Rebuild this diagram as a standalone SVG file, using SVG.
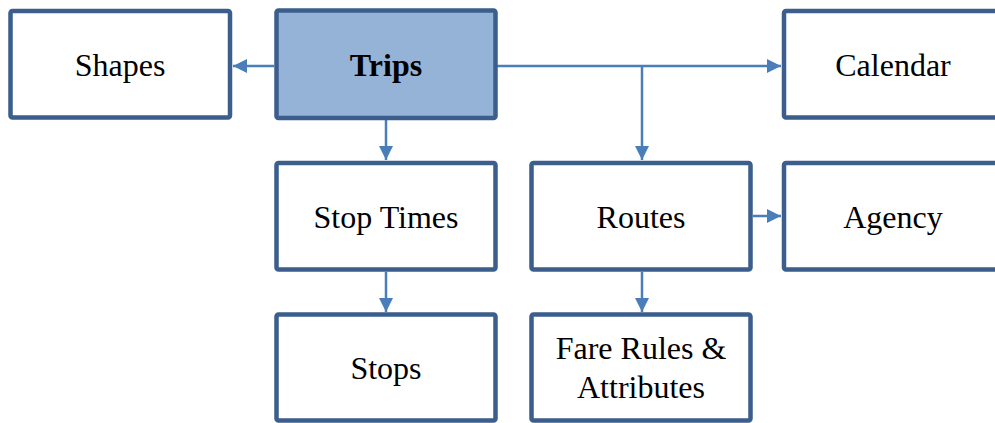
<svg xmlns="http://www.w3.org/2000/svg" width="995" height="423" viewBox="0 0 995 423">
  <style>
    .box { fill: #ffffff; stroke: #3b5e8c; stroke-width: 4.5; }
    .main { fill: #95b3d7; }
    .lbl { font-family: "Liberation Serif", "Times New Roman", serif; font-size: 32px; fill: #000000; text-anchor: middle; }
    .bold { font-weight: bold; }
    .conn { fill: none; stroke: #4a7ebb; stroke-width: 2.5; }
  </style>
  <defs>
    <marker id="arrow" viewBox="0 0 14 14" refX="14" refY="7" markerWidth="14" markerHeight="14" markerUnits="userSpaceOnUse" orient="auto">
      <path d="M0,0 L14,7 L0,14 Z" fill="#4a7ebb"/>
    </marker>
  </defs>
  <rect width="995" height="423" fill="#ffffff"/>

  <g id="connectors">
    <path class="conn" d="M274,66 H233" marker-end="url(#arrow)"/>
    <path class="conn" d="M497,66 H781" marker-end="url(#arrow)"/>
    <path class="conn" d="M642,66 V160" marker-end="url(#arrow)"/>
    <path class="conn" d="M386,120 V160" marker-end="url(#arrow)"/>
    <path class="conn" d="M386,272 V312" marker-end="url(#arrow)"/>
    <path class="conn" d="M642,272 V312" marker-end="url(#arrow)"/>
    <path class="conn" d="M753,216 H781" marker-end="url(#arrow)"/>
  </g>

  <g id="shapes">
    <rect class="box" x="10.5" y="11" width="219.5" height="106.5" rx="2"/>
    <text class="lbl" x="120" y="76">Shapes</text>
  </g>
  <g id="trips">
    <rect class="box main" x="276.5" y="10.5" width="219" height="107.5" rx="2"/>
    <text class="lbl bold" x="386" y="76">Trips</text>
  </g>
  <g id="calendar">
    <rect class="box" x="784" y="11" width="219" height="106.5" rx="2"/>
    <text class="lbl" x="893" y="76">Calendar</text>
  </g>
  <g id="stop-times">
    <rect class="box" x="276.5" y="163" width="219" height="106.5" rx="2"/>
    <text class="lbl" x="386" y="228">Stop Times</text>
  </g>
  <g id="routes">
    <rect class="box" x="531.5" y="163" width="219" height="106.5" rx="2"/>
    <text class="lbl" x="641" y="228">Routes</text>
  </g>
  <g id="agency">
    <rect class="box" x="784" y="163" width="219" height="106.5" rx="2"/>
    <text class="lbl" x="893" y="228">Agency</text>
  </g>
  <g id="stops">
    <rect class="box" x="276.5" y="314.5" width="219" height="106" rx="2"/>
    <text class="lbl" x="386" y="379">Stops</text>
  </g>
  <g id="fare-rules">
    <rect class="box" x="531.5" y="314.5" width="219" height="106" rx="2"/>
    <text class="lbl" x="641" y="359">Fare Rules &amp;</text>
    <text class="lbl" x="641" y="398">Attributes</text>
  </g>
</svg>
